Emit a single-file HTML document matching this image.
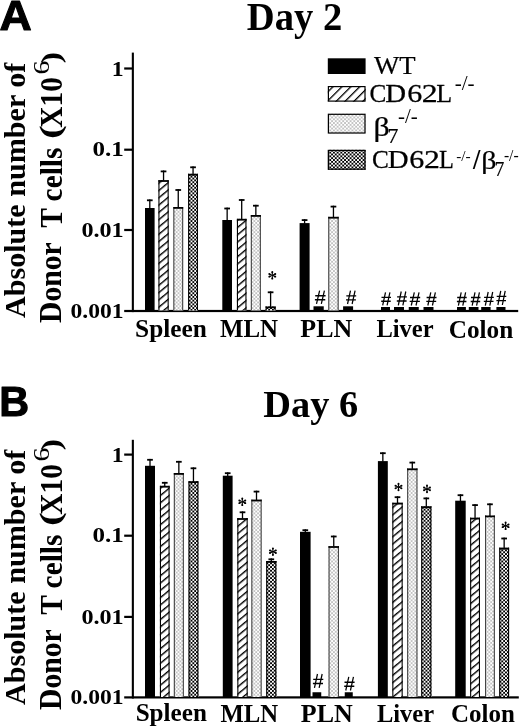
<!DOCTYPE html>
<html><head><meta charset="utf-8"><title>Day 2 / Day 6 donor T cells</title>
<style>html,body{margin:0;padding:0;background:#fff;}svg{display:block;will-change:transform;}</style></head>
<body><svg width="520" height="727" viewBox="0 0 520 727">
<defs>
<pattern id="hatch" width="20" height="5.62" patternUnits="userSpaceOnUse" patternTransform="rotate(-39.6)"><rect width="20" height="1.4" fill="#000"/></pattern>
<pattern id="hatchL" width="20" height="6.3" patternUnits="userSpaceOnUse" patternTransform="rotate(-45)"><rect width="20" height="1.3" fill="#000"/></pattern>
<pattern id="dots" width="3.7" height="3.7" patternUnits="userSpaceOnUse"><circle cx="0.925" cy="0.925" r="0.62" fill="#555"/><circle cx="2.775" cy="2.775" r="0.62" fill="#555"/></pattern>
<pattern id="check" width="3.7" height="3.7" patternUnits="userSpaceOnUse"><rect width="3.7" height="3.7" fill="#fff"/><rect width="1.85" height="1.85" fill="#000"/><rect x="1.85" y="1.85" width="1.85" height="1.85" fill="#000"/></pattern>
</defs>
<rect width="520" height="727" fill="#fff"/>
<rect x="131.80" y="52.60" width="2.10" height="259.50" fill="#000" />
<rect x="124.20" y="67.40" width="8.80" height="2.20" fill="#000" />
<rect x="124.20" y="148.60" width="8.80" height="2.20" fill="#000" />
<rect x="124.20" y="228.90" width="8.80" height="2.20" fill="#000" />
<rect x="124.20" y="309.90" width="394.00" height="2.20" fill="#000" />
<rect x="131.80" y="439.80" width="2.10" height="258.70" fill="#000" />
<rect x="124.20" y="453.50" width="8.80" height="2.20" fill="#000" />
<rect x="124.20" y="534.60" width="8.80" height="2.20" fill="#000" />
<rect x="124.20" y="615.80" width="8.80" height="2.20" fill="#000" />
<rect x="124.20" y="696.30" width="394.60" height="2.20" fill="#000" />
<rect x="145.00" y="208.00" width="9.60" height="102.50" fill="#000" />
<rect x="149.15" y="199.40" width="1.30" height="9.10" fill="#000" />
<rect x="146.95" y="199.40" width="5.70" height="1.80" fill="#000" />
<rect x="158.40" y="180.10" width="10.30" height="130.40" fill="#fff" />
<rect x="158.40" y="180.10" width="10.30" height="130.40" fill="url(#hatch)" />
<rect x="158.40" y="180.10" width="1.10" height="130.40" fill="#000" />
<rect x="167.60" y="180.10" width="1.10" height="130.40" fill="#000" />
<rect x="158.40" y="180.10" width="10.30" height="1.80" fill="#000" />
<rect x="162.90" y="170.50" width="1.30" height="10.10" fill="#000" />
<rect x="160.70" y="170.50" width="5.70" height="1.80" fill="#000" />
<rect x="173.30" y="207.00" width="9.90" height="103.50" fill="#fff" />
<rect x="173.30" y="207.00" width="9.90" height="103.50" fill="url(#dots)" />
<rect x="173.30" y="207.00" width="1.10" height="103.50" fill="#444" />
<rect x="182.10" y="207.00" width="1.10" height="103.50" fill="#444" />
<rect x="173.30" y="207.00" width="9.90" height="1.80" fill="#000" />
<rect x="177.60" y="189.10" width="1.30" height="18.40" fill="#000" />
<rect x="175.40" y="189.10" width="5.70" height="1.80" fill="#000" />
<rect x="188.10" y="173.80" width="9.90" height="136.70" fill="#fff" />
<rect x="188.10" y="173.80" width="9.90" height="136.70" fill="url(#check)" />
<rect x="188.10" y="173.80" width="1.10" height="136.70" fill="#000" />
<rect x="196.90" y="173.80" width="1.10" height="136.70" fill="#000" />
<rect x="188.10" y="173.80" width="9.90" height="1.80" fill="#000" />
<rect x="192.40" y="166.40" width="1.30" height="7.90" fill="#000" />
<rect x="190.20" y="166.40" width="5.70" height="1.80" fill="#000" />
<rect x="222.30" y="220.00" width="9.70" height="90.50" fill="#000" />
<rect x="226.50" y="207.60" width="1.30" height="12.90" fill="#000" />
<rect x="224.30" y="207.60" width="5.70" height="1.80" fill="#000" />
<rect x="236.90" y="218.80" width="9.60" height="91.70" fill="#fff" />
<rect x="236.90" y="218.80" width="9.60" height="91.70" fill="url(#hatch)" />
<rect x="236.90" y="218.80" width="1.10" height="91.70" fill="#000" />
<rect x="245.40" y="218.80" width="1.10" height="91.70" fill="#000" />
<rect x="236.90" y="218.80" width="9.60" height="1.80" fill="#000" />
<rect x="241.05" y="199.10" width="1.30" height="20.20" fill="#000" />
<rect x="238.85" y="199.10" width="5.70" height="1.80" fill="#000" />
<rect x="250.80" y="215.00" width="10.10" height="95.50" fill="#fff" />
<rect x="250.80" y="215.00" width="10.10" height="95.50" fill="url(#dots)" />
<rect x="250.80" y="215.00" width="1.10" height="95.50" fill="#444" />
<rect x="259.80" y="215.00" width="1.10" height="95.50" fill="#444" />
<rect x="250.80" y="215.00" width="10.10" height="1.80" fill="#000" />
<rect x="255.20" y="204.80" width="1.30" height="10.70" fill="#000" />
<rect x="253.00" y="204.80" width="5.70" height="1.80" fill="#000" />
<rect x="299.60" y="223.10" width="10.00" height="87.40" fill="#000" />
<rect x="303.95" y="219.20" width="1.30" height="4.40" fill="#000" />
<rect x="301.75" y="219.20" width="5.70" height="1.80" fill="#000" />
<rect x="328.20" y="216.80" width="10.50" height="93.70" fill="#fff" />
<rect x="328.20" y="216.80" width="10.50" height="93.70" fill="url(#dots)" />
<rect x="328.20" y="216.80" width="1.10" height="93.70" fill="#444" />
<rect x="337.60" y="216.80" width="1.10" height="93.70" fill="#444" />
<rect x="328.20" y="216.80" width="10.50" height="1.80" fill="#000" />
<rect x="332.80" y="205.70" width="1.30" height="11.60" fill="#000" />
<rect x="330.60" y="205.70" width="5.70" height="1.80" fill="#000" />
<rect x="265.60" y="306.50" width="10.00" height="4.00" fill="#fff" />
<rect x="265.60" y="306.50" width="10.00" height="4.00" fill="url(#check)" />
<rect x="265.60" y="306.50" width="1.10" height="4.00" fill="#000" />
<rect x="274.50" y="306.50" width="1.10" height="4.00" fill="#000" />
<rect x="265.60" y="306.50" width="10.00" height="1.80" fill="#000" />
<rect x="269.95" y="291.40" width="1.30" height="15.60" fill="#000" />
<rect x="267.75" y="291.40" width="5.70" height="1.80" fill="#000" />
<rect x="313.50" y="306.30" width="10.25" height="4.20" fill="#000" />
<rect x="343.10" y="306.30" width="10.00" height="4.20" fill="#000" />
<rect x="381.00" y="307.00" width="9.00" height="3.50" fill="#000" />
<rect x="394.00" y="307.00" width="10.00" height="3.50" fill="#000" />
<rect x="408.75" y="307.00" width="10.00" height="3.50" fill="#000" />
<rect x="423.50" y="307.00" width="10.00" height="3.50" fill="#000" />
<rect x="457.00" y="307.00" width="8.90" height="3.50" fill="#000" />
<rect x="468.80" y="307.00" width="9.70" height="3.50" fill="#000" />
<rect x="481.20" y="307.00" width="9.40" height="3.50" fill="#000" />
<rect x="496.40" y="307.00" width="9.10" height="3.50" fill="#000" />
<rect x="145.00" y="465.80" width="10.00" height="231.20" fill="#000" />
<rect x="149.35" y="458.90" width="1.30" height="7.40" fill="#000" />
<rect x="147.15" y="458.90" width="5.70" height="1.80" fill="#000" />
<rect x="159.90" y="485.80" width="9.70" height="211.20" fill="#fff" />
<rect x="159.90" y="485.80" width="9.70" height="211.20" fill="url(#hatch)" />
<rect x="159.90" y="485.80" width="1.10" height="211.20" fill="#000" />
<rect x="168.50" y="485.80" width="1.10" height="211.20" fill="#000" />
<rect x="159.90" y="485.80" width="9.70" height="1.80" fill="#000" />
<rect x="164.10" y="481.90" width="1.30" height="4.40" fill="#000" />
<rect x="161.90" y="481.90" width="5.70" height="1.80" fill="#000" />
<rect x="173.80" y="473.00" width="10.10" height="224.00" fill="#fff" />
<rect x="173.80" y="473.00" width="10.10" height="224.00" fill="url(#dots)" />
<rect x="173.80" y="473.00" width="1.10" height="224.00" fill="#444" />
<rect x="182.80" y="473.00" width="1.10" height="224.00" fill="#444" />
<rect x="173.80" y="473.00" width="10.10" height="1.80" fill="#000" />
<rect x="178.20" y="460.90" width="1.30" height="12.60" fill="#000" />
<rect x="176.00" y="460.90" width="5.70" height="1.80" fill="#000" />
<rect x="188.50" y="481.20" width="9.90" height="215.80" fill="#fff" />
<rect x="188.50" y="481.20" width="9.90" height="215.80" fill="url(#check)" />
<rect x="188.50" y="481.20" width="1.10" height="215.80" fill="#000" />
<rect x="197.30" y="481.20" width="1.10" height="215.80" fill="#000" />
<rect x="188.50" y="481.20" width="9.90" height="1.80" fill="#000" />
<rect x="192.80" y="467.40" width="1.30" height="14.30" fill="#000" />
<rect x="190.60" y="467.40" width="5.70" height="1.80" fill="#000" />
<rect x="222.80" y="475.70" width="9.80" height="221.30" fill="#000" />
<rect x="227.05" y="472.30" width="1.30" height="3.90" fill="#000" />
<rect x="224.85" y="472.30" width="5.70" height="1.80" fill="#000" />
<rect x="237.30" y="518.10" width="10.40" height="178.90" fill="#fff" />
<rect x="237.30" y="518.10" width="10.40" height="178.90" fill="url(#hatch)" />
<rect x="237.30" y="518.10" width="1.10" height="178.90" fill="#000" />
<rect x="246.60" y="518.10" width="1.10" height="178.90" fill="#000" />
<rect x="237.30" y="518.10" width="10.40" height="1.80" fill="#000" />
<rect x="241.85" y="511.40" width="1.30" height="7.20" fill="#000" />
<rect x="239.65" y="511.40" width="5.70" height="1.80" fill="#000" />
<rect x="251.30" y="499.60" width="10.40" height="197.40" fill="#fff" />
<rect x="251.30" y="499.60" width="10.40" height="197.40" fill="url(#dots)" />
<rect x="251.30" y="499.60" width="1.10" height="197.40" fill="#444" />
<rect x="260.60" y="499.60" width="1.10" height="197.40" fill="#444" />
<rect x="251.30" y="499.60" width="10.40" height="1.80" fill="#000" />
<rect x="255.85" y="490.70" width="1.30" height="9.40" fill="#000" />
<rect x="253.65" y="490.70" width="5.70" height="1.80" fill="#000" />
<rect x="266.20" y="561.00" width="10.20" height="136.00" fill="#fff" />
<rect x="266.20" y="561.00" width="10.20" height="136.00" fill="url(#check)" />
<rect x="266.20" y="561.00" width="1.10" height="136.00" fill="#000" />
<rect x="275.30" y="561.00" width="1.10" height="136.00" fill="#000" />
<rect x="266.20" y="561.00" width="10.20" height="1.80" fill="#000" />
<rect x="270.65" y="558.40" width="1.30" height="3.10" fill="#000" />
<rect x="268.45" y="558.40" width="5.70" height="1.80" fill="#000" />
<rect x="300.00" y="531.80" width="10.60" height="165.20" fill="#000" />
<rect x="304.65" y="529.30" width="1.30" height="3.00" fill="#000" />
<rect x="302.45" y="529.30" width="5.70" height="1.80" fill="#000" />
<rect x="328.50" y="546.10" width="10.50" height="150.90" fill="#fff" />
<rect x="328.50" y="546.10" width="10.50" height="150.90" fill="url(#dots)" />
<rect x="328.50" y="546.10" width="1.10" height="150.90" fill="#444" />
<rect x="337.90" y="546.10" width="1.10" height="150.90" fill="#444" />
<rect x="328.50" y="546.10" width="10.50" height="1.80" fill="#000" />
<rect x="333.10" y="535.60" width="1.30" height="11.00" fill="#000" />
<rect x="330.90" y="535.60" width="5.70" height="1.80" fill="#000" />
<rect x="377.90" y="461.10" width="9.90" height="235.90" fill="#000" />
<rect x="382.20" y="452.30" width="1.30" height="9.30" fill="#000" />
<rect x="380.00" y="452.30" width="5.70" height="1.80" fill="#000" />
<rect x="392.30" y="502.70" width="10.40" height="194.30" fill="#fff" />
<rect x="392.30" y="502.70" width="10.40" height="194.30" fill="url(#hatch)" />
<rect x="392.30" y="502.70" width="1.10" height="194.30" fill="#000" />
<rect x="401.60" y="502.70" width="1.10" height="194.30" fill="#000" />
<rect x="392.30" y="502.70" width="10.40" height="1.80" fill="#000" />
<rect x="396.85" y="496.30" width="1.30" height="6.90" fill="#000" />
<rect x="394.65" y="496.30" width="5.70" height="1.80" fill="#000" />
<rect x="407.10" y="468.40" width="10.40" height="228.60" fill="#fff" />
<rect x="407.10" y="468.40" width="10.40" height="228.60" fill="url(#dots)" />
<rect x="407.10" y="468.40" width="1.10" height="228.60" fill="#444" />
<rect x="416.40" y="468.40" width="1.10" height="228.60" fill="#444" />
<rect x="407.10" y="468.40" width="10.40" height="1.80" fill="#000" />
<rect x="411.65" y="461.70" width="1.30" height="7.20" fill="#000" />
<rect x="409.45" y="461.70" width="5.70" height="1.80" fill="#000" />
<rect x="421.20" y="506.30" width="10.20" height="190.70" fill="#fff" />
<rect x="421.20" y="506.30" width="10.20" height="190.70" fill="url(#check)" />
<rect x="421.20" y="506.30" width="1.10" height="190.70" fill="#000" />
<rect x="430.30" y="506.30" width="1.10" height="190.70" fill="#000" />
<rect x="421.20" y="506.30" width="10.20" height="1.80" fill="#000" />
<rect x="425.65" y="497.50" width="1.30" height="9.30" fill="#000" />
<rect x="423.45" y="497.50" width="5.70" height="1.80" fill="#000" />
<rect x="455.20" y="500.70" width="10.50" height="196.30" fill="#000" />
<rect x="459.80" y="494.30" width="1.30" height="6.90" fill="#000" />
<rect x="457.60" y="494.30" width="5.70" height="1.80" fill="#000" />
<rect x="470.10" y="517.70" width="9.90" height="179.30" fill="#fff" />
<rect x="470.10" y="517.70" width="9.90" height="179.30" fill="url(#hatch)" />
<rect x="470.10" y="517.70" width="1.10" height="179.30" fill="#000" />
<rect x="478.90" y="517.70" width="1.10" height="179.30" fill="#000" />
<rect x="470.10" y="517.70" width="9.90" height="1.80" fill="#000" />
<rect x="474.40" y="504.20" width="1.30" height="14.00" fill="#000" />
<rect x="472.20" y="504.20" width="5.70" height="1.80" fill="#000" />
<rect x="485.00" y="515.50" width="9.90" height="181.50" fill="#fff" />
<rect x="485.00" y="515.50" width="9.90" height="181.50" fill="url(#dots)" />
<rect x="485.00" y="515.50" width="1.10" height="181.50" fill="#444" />
<rect x="493.80" y="515.50" width="1.10" height="181.50" fill="#444" />
<rect x="485.00" y="515.50" width="9.90" height="1.80" fill="#000" />
<rect x="489.30" y="503.40" width="1.30" height="12.60" fill="#000" />
<rect x="487.10" y="503.40" width="5.70" height="1.80" fill="#000" />
<rect x="499.20" y="547.70" width="9.90" height="149.30" fill="#fff" />
<rect x="499.20" y="547.70" width="9.90" height="149.30" fill="url(#check)" />
<rect x="499.20" y="547.70" width="1.10" height="149.30" fill="#000" />
<rect x="508.00" y="547.70" width="1.10" height="149.30" fill="#000" />
<rect x="499.20" y="547.70" width="9.90" height="1.80" fill="#000" />
<rect x="503.50" y="537.60" width="1.30" height="10.60" fill="#000" />
<rect x="501.30" y="537.60" width="5.70" height="1.80" fill="#000" />
<rect x="312.50" y="692.25" width="8.75" height="4.75" fill="#000" />
<rect x="344.75" y="692.25" width="8.00" height="4.75" fill="#000" />
<circle cx="272.30" cy="271.95" r="0.95" fill="#000"/>
<circle cx="272.30" cy="278.65" r="0.95" fill="#000"/>
<circle cx="275.31" cy="276.64" r="0.95" fill="#000"/>
<circle cx="275.31" cy="273.96" r="0.95" fill="#000"/>
<circle cx="269.29" cy="276.64" r="0.95" fill="#000"/>
<circle cx="269.29" cy="273.96" r="0.95" fill="#000"/>
<path d="M272.60,275.30 L273.16,271.95 L271.44,271.95 L272.00,275.30Z M272.00,275.30 L271.44,278.65 L273.16,278.65 L272.60,275.30Z M272.18,275.57 L274.97,277.42 L275.66,275.86 L272.42,275.03Z M272.42,275.57 L275.66,274.74 L274.97,273.18 L272.18,275.03Z M272.18,275.03 L268.94,275.86 L269.63,277.42 L272.42,275.57Z M272.42,275.03 L269.63,273.18 L268.94,274.74 L272.18,275.57Z" fill="#000"/>
<circle cx="242.30" cy="498.45" r="0.95" fill="#000"/>
<circle cx="242.30" cy="505.15" r="0.95" fill="#000"/>
<circle cx="245.31" cy="503.14" r="0.95" fill="#000"/>
<circle cx="245.31" cy="500.46" r="0.95" fill="#000"/>
<circle cx="239.29" cy="503.14" r="0.95" fill="#000"/>
<circle cx="239.29" cy="500.46" r="0.95" fill="#000"/>
<path d="M242.60,501.80 L243.16,498.45 L241.45,498.45 L242.00,501.80Z M242.00,501.80 L241.45,505.15 L243.16,505.15 L242.60,501.80Z M242.18,502.07 L244.97,503.92 L245.66,502.36 L242.42,501.53Z M242.42,502.07 L245.66,501.24 L244.97,499.68 L242.18,501.53Z M242.18,501.53 L238.94,502.36 L239.63,503.92 L242.42,502.07Z M242.42,501.53 L239.63,499.68 L238.94,501.24 L242.18,502.07Z" fill="#000"/>
<circle cx="272.90" cy="548.35" r="0.95" fill="#000"/>
<circle cx="272.90" cy="555.05" r="0.95" fill="#000"/>
<circle cx="275.91" cy="553.04" r="0.95" fill="#000"/>
<circle cx="275.91" cy="550.36" r="0.95" fill="#000"/>
<circle cx="269.89" cy="553.04" r="0.95" fill="#000"/>
<circle cx="269.89" cy="550.36" r="0.95" fill="#000"/>
<path d="M273.20,551.70 L273.75,548.35 L272.04,548.35 L272.60,551.70Z M272.60,551.70 L272.04,555.05 L273.75,555.05 L273.20,551.70Z M272.78,551.97 L275.57,553.82 L276.26,552.26 L273.02,551.43Z M273.02,551.97 L276.26,551.14 L275.57,549.58 L272.78,551.43Z M272.78,551.43 L269.54,552.26 L270.23,553.82 L273.02,551.97Z M273.02,551.43 L270.23,549.58 L269.54,551.14 L272.78,551.97Z" fill="#000"/>
<circle cx="398.50" cy="483.65" r="0.95" fill="#000"/>
<circle cx="398.50" cy="490.35" r="0.95" fill="#000"/>
<circle cx="401.51" cy="488.34" r="0.95" fill="#000"/>
<circle cx="401.51" cy="485.66" r="0.95" fill="#000"/>
<circle cx="395.49" cy="488.34" r="0.95" fill="#000"/>
<circle cx="395.49" cy="485.66" r="0.95" fill="#000"/>
<path d="M398.80,487.00 L399.36,483.65 L397.64,483.65 L398.20,487.00Z M398.20,487.00 L397.64,490.35 L399.36,490.35 L398.80,487.00Z M398.38,487.27 L401.17,489.12 L401.86,487.56 L398.62,486.73Z M398.62,487.27 L401.86,486.44 L401.17,484.88 L398.38,486.73Z M398.38,486.73 L395.14,487.56 L395.83,489.12 L398.62,487.27Z M398.62,486.73 L395.83,484.88 L395.14,486.44 L398.38,487.27Z" fill="#000"/>
<circle cx="427.00" cy="485.55" r="0.95" fill="#000"/>
<circle cx="427.00" cy="492.25" r="0.95" fill="#000"/>
<circle cx="430.01" cy="490.24" r="0.95" fill="#000"/>
<circle cx="430.01" cy="487.56" r="0.95" fill="#000"/>
<circle cx="423.99" cy="490.24" r="0.95" fill="#000"/>
<circle cx="423.99" cy="487.56" r="0.95" fill="#000"/>
<path d="M427.30,488.90 L427.86,485.55 L426.14,485.55 L426.70,488.90Z M426.70,488.90 L426.14,492.25 L427.86,492.25 L427.30,488.90Z M426.88,489.17 L429.67,491.02 L430.36,489.46 L427.12,488.63Z M427.12,489.17 L430.36,488.34 L429.67,486.78 L426.88,488.63Z M426.88,488.63 L423.64,489.46 L424.33,491.02 L427.12,489.17Z M427.12,488.63 L424.33,486.78 L423.64,488.34 L426.88,489.17Z" fill="#000"/>
<circle cx="505.60" cy="522.45" r="0.95" fill="#000"/>
<circle cx="505.60" cy="529.15" r="0.95" fill="#000"/>
<circle cx="508.61" cy="527.14" r="0.95" fill="#000"/>
<circle cx="508.61" cy="524.46" r="0.95" fill="#000"/>
<circle cx="502.59" cy="527.14" r="0.95" fill="#000"/>
<circle cx="502.59" cy="524.46" r="0.95" fill="#000"/>
<path d="M505.90,525.80 L506.46,522.45 L504.75,522.45 L505.30,525.80Z M505.30,525.80 L504.75,529.15 L506.46,529.15 L505.90,525.80Z M505.48,526.07 L508.27,527.92 L508.96,526.36 L505.72,525.53Z M505.72,526.07 L508.96,525.24 L508.27,523.68 L505.48,525.53Z M505.48,525.53 L502.24,526.36 L502.93,527.92 L505.72,526.07Z M505.72,525.53 L502.93,523.68 L502.24,525.24 L505.48,526.07Z" fill="#000"/>
<path d="M319.61,290.60 L316.50,303.90 M324.42,290.60 L321.32,303.90" stroke="#000" stroke-width="1.25" fill="none"/>
<path d="M315.22,295.79 H325.60 M314.90,299.78 H325.28" stroke="#000" stroke-width="1.35" fill="none"/>
<path d="M350.49,290.60 L347.53,304.00 M355.08,290.60 L352.12,304.00" stroke="#000" stroke-width="1.25" fill="none"/>
<path d="M346.31,295.83 H356.20 M346.00,299.85 H355.89" stroke="#000" stroke-width="1.35" fill="none"/>
<path d="M385.51,292.30 L382.67,305.30 M389.92,292.30 L387.08,305.30" stroke="#000" stroke-width="1.25" fill="none"/>
<path d="M381.49,297.37 H391.00 M381.20,301.27 H390.71" stroke="#000" stroke-width="1.35" fill="none"/>
<path d="M401.24,291.50 L398.31,305.30 M405.79,291.50 L402.86,305.30" stroke="#000" stroke-width="1.25" fill="none"/>
<path d="M397.10,296.88 H406.90 M396.80,301.02 H406.60" stroke="#000" stroke-width="1.35" fill="none"/>
<path d="M414.32,292.30 L411.27,305.50 M419.05,292.30 L416.00,305.50" stroke="#000" stroke-width="1.25" fill="none"/>
<path d="M410.01,297.45 H420.20 M409.70,301.41 H419.88" stroke="#000" stroke-width="1.35" fill="none"/>
<path d="M430.79,292.30 L427.83,305.50 M435.38,292.30 L432.42,305.50" stroke="#000" stroke-width="1.25" fill="none"/>
<path d="M426.61,297.45 H436.50 M426.30,301.41 H436.19" stroke="#000" stroke-width="1.35" fill="none"/>
<path d="M461.21,292.30 L458.37,305.60 M465.62,292.30 L462.78,305.60" stroke="#000" stroke-width="1.25" fill="none"/>
<path d="M457.19,297.49 H466.70 M456.90,301.48 H466.41" stroke="#000" stroke-width="1.35" fill="none"/>
<path d="M475.01,292.30 L472.17,305.60 M479.42,292.30 L476.58,305.60" stroke="#000" stroke-width="1.25" fill="none"/>
<path d="M470.99,297.49 H480.50 M470.70,301.48 H480.21" stroke="#000" stroke-width="1.35" fill="none"/>
<path d="M488.20,292.00 L485.30,305.60 M492.70,292.00 L489.80,305.60" stroke="#000" stroke-width="1.25" fill="none"/>
<path d="M484.10,297.30 H493.80 M483.80,301.38 H493.50" stroke="#000" stroke-width="1.35" fill="none"/>
<path d="M500.76,290.90 L497.88,305.00 M505.21,290.90 L502.34,305.00" stroke="#000" stroke-width="1.25" fill="none"/>
<path d="M496.70,296.40 H506.30 M496.40,300.63 H506.00" stroke="#000" stroke-width="1.35" fill="none"/>
<path d="M317.48,674.00 L314.46,687.80 M322.16,674.00 L319.14,687.80" stroke="#000" stroke-width="1.25" fill="none"/>
<path d="M313.21,679.38 H323.30 M312.90,683.52 H322.99" stroke="#000" stroke-width="1.35" fill="none"/>
<path d="M348.78,676.90 L345.76,690.50 M353.46,676.90 L350.44,690.50" stroke="#000" stroke-width="1.25" fill="none"/>
<path d="M344.51,682.20 H354.60 M344.20,686.28 H354.29" stroke="#000" stroke-width="1.35" fill="none"/>
<rect x="327.80" y="58.30" width="37.80" height="15.70" fill="#000" />
<rect x="327.80" y="86.00" width="37.80" height="15.70" fill="#fff" />
<rect x="327.80" y="86.00" width="37.80" height="15.70" fill="url(#hatchL)" />
<rect x="328.40" y="86.60" width="36.60" height="14.50" fill="none" stroke="#000" stroke-width="1.2"/>
<rect x="327.80" y="113.70" width="37.80" height="19.90" fill="#fff" />
<rect x="327.80" y="113.70" width="37.80" height="19.90" fill="url(#dots)" />
<rect x="328.40" y="114.30" width="36.60" height="18.70" fill="none" stroke="#000" stroke-width="1.2"/>
<rect x="327.80" y="149.80" width="37.80" height="20.00" fill="#fff" />
<rect x="327.80" y="149.80" width="37.80" height="20.00" fill="url(#check)" />
<rect x="328.40" y="150.40" width="36.60" height="18.80" fill="none" stroke="#000" stroke-width="1.2"/>
<g transform="translate(-0.44,30.49) scale(0.3723,0.3552)"><text x="0" y="0" font-family="'Liberation Sans', sans-serif" font-weight="bold" font-size="120" stroke="#000" stroke-width="3.00" stroke-linejoin="round" xml:space="preserve">A</text></g>
<g transform="translate(-0.86,415.99) scale(0.3442,0.3540)"><text x="0" y="0" font-family="'Liberation Sans', sans-serif" font-weight="bold" font-size="120" stroke="#000" stroke-width="3.00" stroke-linejoin="round" xml:space="preserve">B</text></g>
<g transform="translate(246.86,30.20) scale(0.3217,0.3275)"><text x="0" y="0" font-family="'Liberation Serif', serif" font-weight="bold" font-size="120" xml:space="preserve">Day 2</text></g>
<g transform="translate(263.26,416.70) scale(0.3199,0.3175)"><text x="0" y="0" font-family="'Liberation Serif', serif" font-weight="bold" font-size="120" xml:space="preserve">Day 6</text></g>
<g transform="translate(111.82,75.60) scale(0.1977,0.1775)"><text x="0" y="0" font-family="'Liberation Serif', serif" font-weight="bold" font-size="120" xml:space="preserve">1</text></g>
<g transform="translate(92.46,156.46) scale(0.2086,0.1711)"><text x="0" y="0" font-family="'Liberation Serif', serif" font-weight="bold" font-size="120" xml:space="preserve">0.1</text></g>
<g transform="translate(81.39,236.76) scale(0.2015,0.1711)"><text x="0" y="0" font-family="'Liberation Serif', serif" font-weight="bold" font-size="120" xml:space="preserve">0.01</text></g>
<g transform="translate(70.52,317.96) scale(0.1969,0.1711)"><text x="0" y="0" font-family="'Liberation Serif', serif" font-weight="bold" font-size="120" xml:space="preserve">0.001</text></g>
<g transform="translate(111.82,461.70) scale(0.1977,0.1775)"><text x="0" y="0" font-family="'Liberation Serif', serif" font-weight="bold" font-size="120" xml:space="preserve">1</text></g>
<g transform="translate(92.46,542.46) scale(0.2086,0.1711)"><text x="0" y="0" font-family="'Liberation Serif', serif" font-weight="bold" font-size="120" xml:space="preserve">0.1</text></g>
<g transform="translate(81.39,623.66) scale(0.2015,0.1711)"><text x="0" y="0" font-family="'Liberation Serif', serif" font-weight="bold" font-size="120" xml:space="preserve">0.01</text></g>
<g transform="translate(70.52,704.46) scale(0.1969,0.1711)"><text x="0" y="0" font-family="'Liberation Serif', serif" font-weight="bold" font-size="120" xml:space="preserve">0.001</text></g>
<g transform="translate(135.03,336.69) scale(0.2114,0.2099)"><text x="0" y="0" font-family="'Liberation Serif', serif" font-weight="bold" font-size="120" xml:space="preserve">Spleen</text></g>
<g transform="translate(219.98,337.10) scale(0.2076,0.2114)"><text x="0" y="0" font-family="'Liberation Serif', serif" font-weight="bold" font-size="120" xml:space="preserve">MLN</text></g>
<g transform="translate(300.37,337.10) scale(0.2165,0.2114)"><text x="0" y="0" font-family="'Liberation Serif', serif" font-weight="bold" font-size="120" xml:space="preserve">PLN</text></g>
<g transform="translate(376.39,337.10) scale(0.2044,0.2114)"><text x="0" y="0" font-family="'Liberation Serif', serif" font-weight="bold" font-size="120" xml:space="preserve">Liver</text></g>
<g transform="translate(448.74,337.69) scale(0.2104,0.2111)"><text x="0" y="0" font-family="'Liberation Serif', serif" font-weight="bold" font-size="120" xml:space="preserve">Colon</text></g>
<g transform="translate(135.64,721.39) scale(0.2096,0.2062)"><text x="0" y="0" font-family="'Liberation Serif', serif" font-weight="bold" font-size="120" xml:space="preserve">Spleen</text></g>
<g transform="translate(220.39,721.90) scale(0.2062,0.2089)"><text x="0" y="0" font-family="'Liberation Serif', serif" font-weight="bold" font-size="120" xml:space="preserve">MLN</text></g>
<g transform="translate(300.77,721.90) scale(0.2165,0.2089)"><text x="0" y="0" font-family="'Liberation Serif', serif" font-weight="bold" font-size="120" xml:space="preserve">PLN</text></g>
<g transform="translate(376.89,721.90) scale(0.2044,0.2089)"><text x="0" y="0" font-family="'Liberation Serif', serif" font-weight="bold" font-size="120" xml:space="preserve">Liver</text></g>
<g transform="translate(451.05,721.99) scale(0.2084,0.2148)"><text x="0" y="0" font-family="'Liberation Serif', serif" font-weight="bold" font-size="120" xml:space="preserve">Colon</text></g>
<g transform="translate(25.12,318.05) scale(0.2402,0.2511)"><g transform="rotate(-90)"><text x="0" y="0" font-family="'Liberation Serif', serif" font-weight="bold" font-size="120" xml:space="preserve">Absolute number of</text></g></g>
<g transform="translate(60.74,322.89) scale(0.2605,0.2463)"><g transform="rotate(-90)"><text x="0" y="0" font-family="'Liberation Serif', serif" font-weight="bold" font-size="120" xml:space="preserve">Donor</text></g></g>
<g transform="translate(61.84,227.79) scale(0.2565,0.2449)"><g transform="rotate(-90)"><text x="0" y="0" font-family="'Liberation Serif', serif" font-weight="bold" font-size="120" xml:space="preserve">T cells</text></g></g>
<g transform="translate(61.63,127.79) scale(0.2671,0.2450)"><g transform="rotate(-90)"><text x="0" y="0" font-family="'Liberation Serif', serif" font-weight="bold" font-size="120" xml:space="preserve">X10</text></g></g>
<g transform="translate(59.88,139.04) scale(0.2367,0.3484)"><g transform="rotate(-90)"><text x="0" y="0" font-family="'Liberation Serif', serif" font-weight="bold" font-size="120" xml:space="preserve">(</text></g></g>
<g transform="translate(49.21,74.56) scale(0.1901,0.2327)"><g transform="rotate(-90)"><text x="0" y="0" font-family="'Liberation Serif', serif" font-weight="normal" font-size="120" xml:space="preserve">6</text></g></g>
<g transform="translate(59.75,63.24) scale(0.2339,0.2839)"><g transform="rotate(-90)"><text x="0" y="0" font-family="'Liberation Serif', serif" font-weight="bold" font-size="120" xml:space="preserve">)</text></g></g>
<g transform="translate(25.12,705.05) scale(0.2402,0.2511)"><g transform="rotate(-90)"><text x="0" y="0" font-family="'Liberation Serif', serif" font-weight="bold" font-size="120" xml:space="preserve">Absolute number of</text></g></g>
<g transform="translate(60.74,709.89) scale(0.2605,0.2463)"><g transform="rotate(-90)"><text x="0" y="0" font-family="'Liberation Serif', serif" font-weight="bold" font-size="120" xml:space="preserve">Donor</text></g></g>
<g transform="translate(61.84,614.79) scale(0.2565,0.2449)"><g transform="rotate(-90)"><text x="0" y="0" font-family="'Liberation Serif', serif" font-weight="bold" font-size="120" xml:space="preserve">T cells</text></g></g>
<g transform="translate(61.63,514.79) scale(0.2671,0.2450)"><g transform="rotate(-90)"><text x="0" y="0" font-family="'Liberation Serif', serif" font-weight="bold" font-size="120" xml:space="preserve">X10</text></g></g>
<g transform="translate(59.88,526.04) scale(0.2367,0.3484)"><g transform="rotate(-90)"><text x="0" y="0" font-family="'Liberation Serif', serif" font-weight="bold" font-size="120" xml:space="preserve">(</text></g></g>
<g transform="translate(49.21,461.56) scale(0.1901,0.2327)"><g transform="rotate(-90)"><text x="0" y="0" font-family="'Liberation Serif', serif" font-weight="normal" font-size="120" xml:space="preserve">6</text></g></g>
<g transform="translate(59.75,450.24) scale(0.2339,0.2839)"><g transform="rotate(-90)"><text x="0" y="0" font-family="'Liberation Serif', serif" font-weight="bold" font-size="120" xml:space="preserve">)</text></g></g>
<g transform="translate(374.02,73.99) scale(0.2226,0.2036)"><text x="0" y="0" font-family="'Liberation Serif', serif" font-weight="normal" font-size="120" stroke="#000" stroke-width="1.20" stroke-linejoin="round" xml:space="preserve">WT</text></g>
<g transform="translate(369.46,102.07) scale(0.2100,0.2133)"><text x="0" y="0" font-family="'Liberation Serif', serif" font-weight="normal" font-size="120" stroke="#000" stroke-width="1.20" stroke-linejoin="round" xml:space="preserve">C</text></g>
<g transform="translate(385.18,102.07) scale(0.2405,0.2133)"><text x="0" y="0" font-family="'Liberation Serif', serif" font-weight="normal" font-size="120" stroke="#000" stroke-width="1.20" stroke-linejoin="round" xml:space="preserve">D</text></g>
<g transform="translate(407.15,102.07) scale(0.2500,0.2133)"><text x="0" y="0" font-family="'Liberation Serif', serif" font-weight="normal" font-size="120" stroke="#000" stroke-width="1.20" stroke-linejoin="round" xml:space="preserve">6</text></g>
<g transform="translate(421.77,102.07) scale(0.2653,0.2133)"><text x="0" y="0" font-family="'Liberation Serif', serif" font-weight="normal" font-size="120" stroke="#000" stroke-width="1.20" stroke-linejoin="round" xml:space="preserve">2</text></g>
<g transform="translate(436.25,102.07) scale(0.2172,0.2133)"><text x="0" y="0" font-family="'Liberation Serif', serif" font-weight="normal" font-size="120" stroke="#000" stroke-width="1.20" stroke-linejoin="round" xml:space="preserve">L</text></g>
<g transform="translate(454.70,89.82) scale(0.1752,0.1778)"><text x="0" y="0" font-family="'Liberation Serif', serif" font-weight="normal" font-size="120" xml:space="preserve">-/-</text></g>
<g transform="translate(373.44,135.91) scale(0.2653,0.2257)"><text x="0" y="0" font-family="'Liberation Serif', serif" font-weight="normal" font-size="120" stroke="#000" stroke-width="1.05" stroke-linejoin="round" xml:space="preserve">β</text></g>
<g transform="translate(387.53,143.33) scale(0.1820,0.1728)"><text x="0" y="0" font-family="'Liberation Serif', serif" font-weight="normal" font-size="120" stroke="#000" stroke-width="1.05" stroke-linejoin="round" xml:space="preserve">7</text></g>
<g transform="translate(398.10,123.12) scale(0.1743,0.1790)"><text x="0" y="0" font-family="'Liberation Serif', serif" font-weight="normal" font-size="120" xml:space="preserve">-/-</text></g>
<g transform="translate(372.06,168.08) scale(0.2100,0.2084)"><text x="0" y="0" font-family="'Liberation Serif', serif" font-weight="normal" font-size="120" stroke="#000" stroke-width="1.20" stroke-linejoin="round" xml:space="preserve">C</text></g>
<g transform="translate(387.78,168.08) scale(0.2405,0.2084)"><text x="0" y="0" font-family="'Liberation Serif', serif" font-weight="normal" font-size="120" stroke="#000" stroke-width="1.20" stroke-linejoin="round" xml:space="preserve">D</text></g>
<g transform="translate(409.35,168.08) scale(0.2500,0.2084)"><text x="0" y="0" font-family="'Liberation Serif', serif" font-weight="normal" font-size="120" stroke="#000" stroke-width="1.20" stroke-linejoin="round" xml:space="preserve">6</text></g>
<g transform="translate(423.97,168.08) scale(0.2653,0.2084)"><text x="0" y="0" font-family="'Liberation Serif', serif" font-weight="normal" font-size="120" stroke="#000" stroke-width="1.20" stroke-linejoin="round" xml:space="preserve">2</text></g>
<g transform="translate(438.89,168.08) scale(0.2031,0.2084)"><text x="0" y="0" font-family="'Liberation Serif', serif" font-weight="normal" font-size="120" stroke="#000" stroke-width="1.20" stroke-linejoin="round" xml:space="preserve">L</text></g>
<g transform="translate(456.19,160.77) scale(0.1286,0.1296)"><text x="0" y="0" font-family="'Liberation Serif', serif" font-weight="normal" font-size="120" xml:space="preserve">-/-</text></g>
<g transform="translate(472.92,168.55) scale(0.2200,0.2469)"><text x="0" y="0" font-family="'Liberation Serif', serif" font-weight="bold" font-size="120" xml:space="preserve">/</text></g>
<g transform="translate(481.34,168.72) scale(0.2510,0.2177)"><text x="0" y="0" font-family="'Liberation Serif', serif" font-weight="normal" font-size="120" stroke="#000" stroke-width="1.05" stroke-linejoin="round" xml:space="preserve">β</text></g>
<g transform="translate(494.68,176.03) scale(0.1600,0.1667)"><text x="0" y="0" font-family="'Liberation Serif', serif" font-weight="normal" font-size="120" stroke="#000" stroke-width="1.05" stroke-linejoin="round" xml:space="preserve">7</text></g>
<g transform="translate(503.88,160.77) scale(0.1305,0.1309)"><text x="0" y="0" font-family="'Liberation Serif', serif" font-weight="normal" font-size="120" xml:space="preserve">-/-</text></g>
</svg></body></html>
